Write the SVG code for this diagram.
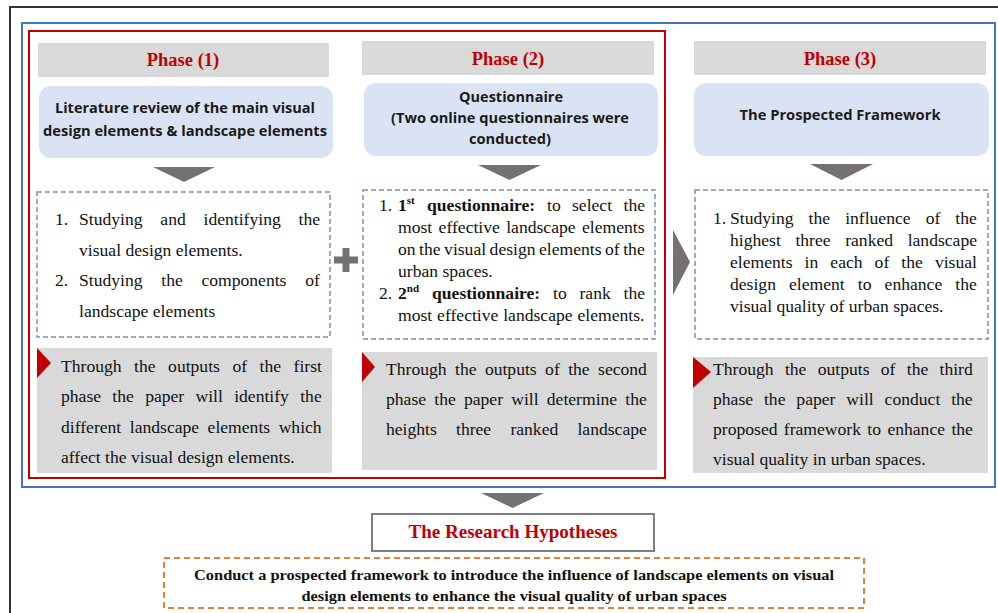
<svg xmlns="http://www.w3.org/2000/svg" width="998" height="613" viewBox="0 0 998 613">
<style>
.ph{font-family:"Liberation Serif","Times New Roman",serif;font-weight:bold;font-size:18.5px;fill:#C00000;text-anchor:middle}
.hd{font-family:"Open Sans","Liberation Sans",sans-serif;font-weight:bold;font-size:15px;fill:#1a1a1a;text-anchor:middle}
.bd{font-family:"Liberation Serif","Times New Roman",serif;font-size:17.6px;fill:#111}
.b{font-weight:bold}
.sup{font-size:11px;font-weight:bold}
.hdr{fill:#D9D9D9}
.blu{fill:#DAE3F3}
.dash{fill:none;stroke:#7A90B8;stroke-width:1.5;stroke-dasharray:5 3}
.out{fill:#D9D9D9}
.mk{fill:#C00000}
.arr{fill:#767171}
</style>
<rect width="998" height="613" fill="#ffffff"/>
<path d="M10,613 V7 H998" fill="none" stroke="#333333" stroke-width="2"/>
<rect x="22" y="23" width="973" height="464" fill="none" stroke="#4472C4" stroke-width="2"/>
<rect x="29" y="31" width="636" height="447" fill="none" stroke="#C00000" stroke-width="2"/>

<g id="phase1">
<rect class="hdr" x="38" y="43" width="291" height="34"/>
<text class="ph" x="183" y="66">Phase (1)</text>
<rect class="blu" x="39" y="86" width="294" height="72" rx="12"/>
<text class="hd" x="185" y="113" textLength="260" lengthAdjust="spacingAndGlyphs">Literature review of the main visual</text>
<text class="hd" x="185" y="136" textLength="284" lengthAdjust="spacingAndGlyphs">design elements &amp; landscape elements</text>
<rect class="dash" x="37" y="192" width="293" height="145"/>
<text class="bd" x="55" y="225">1.</text>
<text class="bd" x="79" y="225" word-spacing="13.4">Studying and identifying the</text>
<text class="bd" x="79" y="256">visual design elements.</text>
<text class="bd" x="55" y="286">2.</text>
<text class="bd" x="79" y="286" word-spacing="14.3">Studying the components of</text>
<text class="bd" x="79" y="317">landscape elements</text>
<rect class="out" x="37" y="348" width="295" height="125"/>
<polygon class="mk" points="37,348 51,363 37,378"/>
<text class="bd" x="61" y="372" word-spacing="8.1">Through the outputs of the first</text>
<text class="bd" x="61" y="402" word-spacing="6.9">phase the paper will identify the</text>
<text class="bd" x="61" y="433" word-spacing="4.1">different landscape elements which</text>
<text class="bd" x="61" y="463">affect the visual design elements.</text>
</g>

<g id="phase2">
<rect class="hdr" x="362" y="41" width="292" height="34"/>
<text class="ph" x="508" y="65">Phase (2)</text>
<rect class="blu" x="364" y="83" width="294" height="73" rx="12"/>
<text class="hd" x="511" y="102" textLength="104" lengthAdjust="spacingAndGlyphs">Questionnaire</text>
<text class="hd" x="510" y="123" textLength="238" lengthAdjust="spacingAndGlyphs">(Two online questionnaires were</text>
<text class="hd" x="510" y="144" textLength="82" lengthAdjust="spacingAndGlyphs">conducted)</text>
<rect class="dash" x="363" y="190" width="292" height="149"/>
<text class="bd" x="379" y="211">1.</text>
<text class="bd" y="211"><tspan class="b" x="398">1</tspan><tspan class="sup" dy="-7">st</tspan><tspan class="b" x="427" y="211">questionnaire:</tspan><tspan x="547">to</tspan><tspan x="572">select</tspan><tspan x="645" text-anchor="end">the</tspan></text>
<text class="bd" x="398" y="233" word-spacing="2">most effective landscape elements</text>
<text class="bd" x="398" y="255" word-spacing="-0.9">on the visual design elements of the</text>
<text class="bd" x="398" y="277">urban spaces.</text>
<text class="bd" x="379" y="299">2.</text>
<text class="bd" y="299"><tspan class="b" x="398">2</tspan><tspan class="sup" dy="-7">nd</tspan><tspan class="b" x="432" y="299">questionnaire:</tspan><tspan x="553">to</tspan><tspan x="579.5">rank</tspan><tspan x="645" text-anchor="end">the</tspan></text>
<text class="bd" x="398" y="321" word-spacing="0.5">most effective landscape elements.</text>
<rect class="out" x="362" y="352" width="295" height="118"/>
<polygon class="mk" points="362,352 375,367 362,382"/>
<text class="bd" x="386" y="375" word-spacing="4">Through the outputs of the second</text>
<text class="bd" x="386" y="405" word-spacing="3.8">phase the paper will determine the</text>
<text class="bd" x="386" y="435" word-spacing="14.8">heights three ranked landscape</text>
</g>

<g id="phase3">
<rect class="hdr" x="694" y="41" width="292" height="34"/>
<text class="ph" x="840" y="65">Phase (3)</text>
<rect class="blu" x="694" y="83" width="295" height="73" rx="12"/>
<text class="hd" x="840" y="120" textLength="201" lengthAdjust="spacingAndGlyphs">The Prospected Framework</text>
<rect class="dash" x="695" y="190" width="293" height="149"/>
<text class="bd" x="713" y="224">1.</text>
<text class="bd" x="730" y="224" word-spacing="10.65">Studying the influence of the</text>
<text class="bd" x="730" y="246" word-spacing="10.2">highest three ranked landscape</text>
<text class="bd" x="730" y="268" word-spacing="7.66">elements in each of the visual</text>
<text class="bd" x="730" y="290" word-spacing="8.7">design element to enhance the</text>
<text class="bd" x="730" y="312">visual quality of urban spaces.</text>
<rect class="out" x="693" y="357" width="295" height="116"/>
<polygon class="mk" points="693,357 711,372 693,388"/>
<text class="bd" x="713" y="375" word-spacing="6.9">Through the outputs of the third</text>
<text class="bd" x="713" y="405" word-spacing="6.5">phase the paper will conduct the</text>
<text class="bd" x="713" y="435" word-spacing="1.95">proposed framework to enhance the</text>
<text class="bd" x="713" y="465">visual quality in urban spaces.</text>
</g>

<g id="connectors">
<polygon class="arr" points="153,167 215,167 184,182"/>
<polygon class="arr" points="478,165 541,165 509.5,180"/>
<polygon class="arr" points="810,164 873,164 841.5,180"/>
<path class="arr" d="M334,256.5 H342.5 V248 H349.5 V256.5 H358 V263.5 H349.5 V272 H342.5 V263.5 H334 Z"/>
<polygon class="arr" points="673,230 690,262 673,295"/>
<polygon class="arr" points="481,493 544,493 512.5,508"/>
</g>

<g id="hypotheses">
<rect x="372" y="514" width="282" height="37" fill="#ffffff" stroke="#7F7F7F" stroke-width="2"/>
<text class="ph" x="513" y="538" style="font-size:19px" textLength="209" lengthAdjust="spacingAndGlyphs">The Research Hypotheses</text>
</g>

<g id="conclusion">
<rect x="164" y="558" width="700" height="50" fill="none" stroke="#ED7D31" stroke-width="2" stroke-dasharray="6 4"/>
<text class="bd b" x="514" y="580" text-anchor="middle" style="font-size:15px" textLength="640" lengthAdjust="spacingAndGlyphs">Conduct a prospected framework to introduce the influence of landscape elements on visual</text>
<text class="bd b" x="514" y="601" text-anchor="middle" style="font-size:15px" textLength="425" lengthAdjust="spacingAndGlyphs">design elements to enhance the visual quality of urban spaces</text>
</g>
</svg>
